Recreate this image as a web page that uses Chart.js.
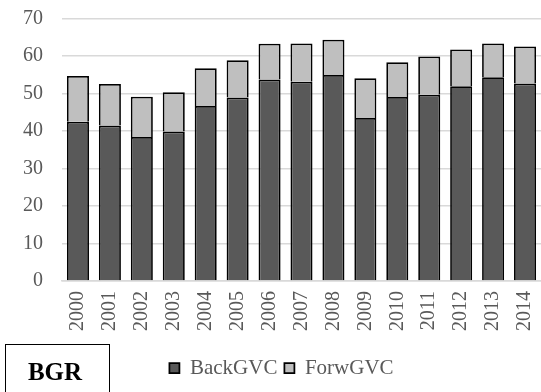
<!DOCTYPE html>
<html>
<head>
<meta charset="utf-8">
<script src="https://cdn.jsdelivr.net/npm/chart.js@4/dist/chart.umd.min.js"></script>
<style>
  html, body { margin: 0; padding: 0; background: #ffffff; }
  #wrap { position: relative; width: 541px; height: 392px; }
</style>
</head>
<body>
<div id="wrap"><canvas id="c" width="541" height="392"></canvas></div>
<script>
const years = ['2000','2001','2002','2003','2004','2005','2006','2007','2008','2009','2010','2011','2012','2013','2014'];
const backGVC = [42.5, 41.5, 38.4, 39.9, 46.7, 49.0, 53.8, 53.2, 55.0, 43.5, 49.1, 49.7, 52.0, 54.4, 52.7];
const forwGVC = [12.2, 11.1, 10.8, 10.5, 10.1, 9.9, 9.5, 10.2, 9.4, 10.6, 9.3, 10.2, 9.8, 9.0, 9.9];
const seriesNames = ['BackGVC', 'ForwGVC'];
const countryLabel = 'BGR';

const serif = "'Liberation Serif', 'Times New Roman', serif";

const countryBox = {
  id: 'countryBox',
  afterDraw(chart) {
    const ctx = chart.ctx;
    ctx.save();
    ctx.strokeStyle = '#000000';
    ctx.lineWidth = 1;
    ctx.strokeRect(5.5, 344.5, 104, 60);
    ctx.fillStyle = '#000000';
    ctx.font = "bold 25px " + serif;
    ctx.textAlign = 'center';
    ctx.textBaseline = 'alphabetic';
    ctx.fillText(countryLabel, 55, 380);
    ctx.restore();
  }
};

const legendShift = {
  id: 'legendShift',
  afterLayout(chart) {
    const lg = chart.legend;
    if (lg) { lg.left += 11; lg.right += 11; }
  }
};

new Chart(document.getElementById('c'), {
  type: 'bar',
  data: {
    labels: years,
    datasets: [
      { label: seriesNames[0], data: backGVC, backgroundColor: '#595959', borderColor: '#000000', borderWidth: 1.75 },
      { label: seriesNames[1], data: forwGVC, backgroundColor: '#bfbfbf', borderColor: '#000000', borderWidth: 1.75 }
    ]
  },
  options: {
    responsive: false,
    animation: false,
    devicePixelRatio: 1,
    layout: { padding: { top: 18.7, left: 0, right: 0, bottom: 3.5 } },
    datasets: { bar: { categoryPercentage: 1.0, barPercentage: 0.69 } },
    scales: {
      x: {
        stacked: true,
        grid: { display: false, drawTicks: false },
        border: { display: true, color: '#d9d9d9', width: 1.5 },
        ticks: {
          color: '#595959',
          font: { family: serif, size: 20 },
          minRotation: 90, maxRotation: 90,
          padding: 10,
          autoSkip: false
        },
        afterFit(scale) { scale.height = 69.5; scale.paddingLeft = 0; scale.paddingRight = 0; }
      },
      y: {
        stacked: true,
        min: 0, max: 70,
        grid: { color: '#d9d9d9', lineWidth: 1.5, drawTicks: false },
        border: { display: false },
        ticks: {
          stepSize: 10,
          color: '#595959',
          font: { family: serif, size: 20 },
          padding: 19
        },
        afterFit(scale) { scale.width = 62; scale.paddingTop = 0; scale.paddingBottom = 0; }
      }
    },
    plugins: {
      legend: {
        position: 'bottom',
        labels: {
          color: '#595959',
          font: { family: serif, size: 21 },
          boxWidth: 10,
          boxHeight: 10,
          padding: 7
        }
      },
      tooltip: { enabled: false },
      title: { display: false }
    }
  },
  plugins: [countryBox, legendShift]
});
</script>
</body>
</html>
